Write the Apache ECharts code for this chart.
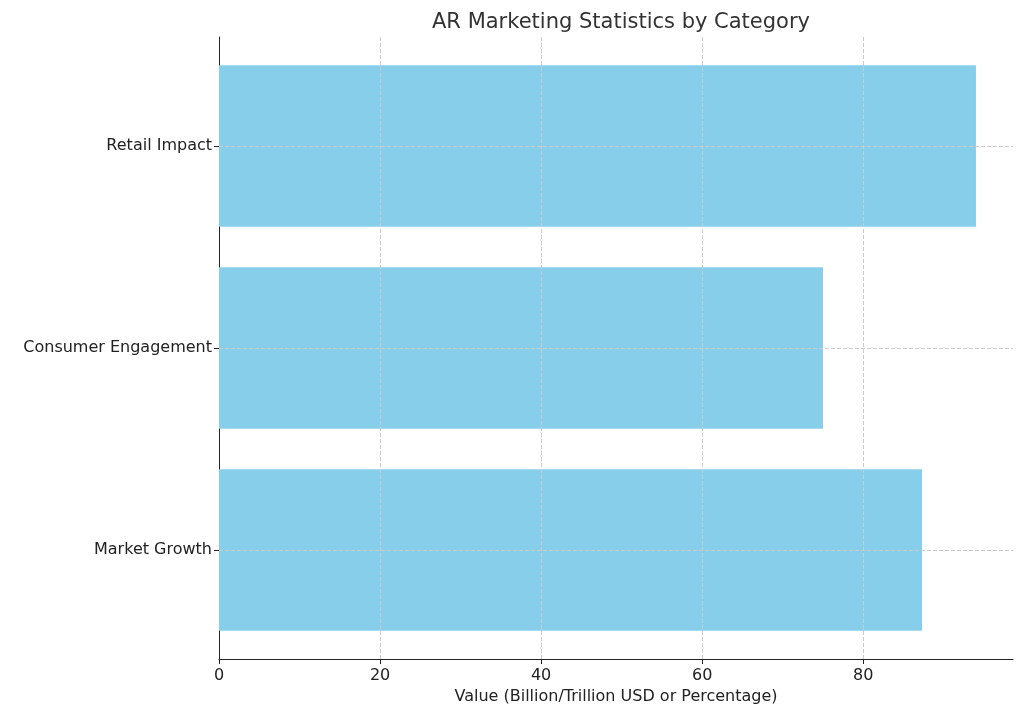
<!DOCTYPE html>
<html><head><meta charset="utf-8">
<script src="https://cdn.jsdelivr.net/npm/echarts@6/dist/echarts.min.js"></script>
<style>html,body{margin:0;padding:0;background:#fff}#c{width:1024px;height:714px}</style>
</head><body><div id="c"></div>
<script>
const categories = ["Market Growth", "Consumer Engagement", "Retail Impact"];
const values = [87.3, 75, 94];
const xTicks = [0, 20, 40, 60, 80];
const chart = echarts.init(document.getElementById('c'));
const font = 'DejaVu Sans';
chart.setOption({
  animation: false,
  title: {text: 'AR Marketing Statistics by Category', left: 616, top: 7, textAlign: 'center',
    textStyle: {fontFamily: font, fontSize: 21, fontWeight: 'normal', color: '#333'}},
  grid: [{left: 219, right: 11, top: 37, bottom: 55}, {left: 219, right: 11, top: 45, bottom: 63}],
  xAxis: [{type: 'value', gridIndex: 0, min: 0, max: 98.6,
    name: 'Value (Billion/Trillion USD or Percentage)', nameLocation: 'middle', nameGap: 30,
    nameTextStyle: {fontFamily: font, fontSize: 16, color: '#222'},
    axisLine: {show: true, lineStyle: {color: '#222'}},
    axisTick: {show: true, length: 5, customValues: xTicks, lineStyle: {color: '#222'}},
    axisLabel: {fontFamily: font, fontSize: 16, color: '#222', margin: 9, customValues: xTicks},
    splitLine: {show: false}},
   {type: 'value', gridIndex: 1, min: 0, max: 98.6, show: false,
    splitLine: {show: false}}],
  yAxis: [{type: 'value', gridIndex: 0, min: 0, max: 1, axisLine: {show: true, lineStyle: {color: '#222'}},
    axisTick: {show: false}, axisLabel: {show: false}, splitLine: {show: false}},
   {type: 'category', gridIndex: 1, data: categories,
    axisLine: {show: false},
    axisTick: {show: true, alignWithLabel: true, length: 5, lineStyle: {color: '#222'}},
    axisLabel: {fontFamily: font, fontSize: 16, color: '#222', margin: 7},
    splitLine: {show: false}}],
  series: [
   {type: 'line', xAxisIndex: 0, yAxisIndex: 0, data: [], silent: true,
    markLine: {silent: true, symbol: 'none', label: {show: false},
      lineStyle: {type: 'dashed', color: '#ccc', width: 1},
      data: xTicks.filter(v => v > 0).map(v => ({xAxis: v}))}},
   {type: 'bar', xAxisIndex: 1, yAxisIndex: 1, data: values, barCategoryGap: '20%',
    itemStyle: {color: '#87ceeb'},
    markLine: {silent: true, symbol: 'none', label: {show: false},
      lineStyle: {type: 'dashed', color: '#ccc', width: 1},
      data: categories.map(c => ({yAxis: c}))}}]
});
</script></body></html>
